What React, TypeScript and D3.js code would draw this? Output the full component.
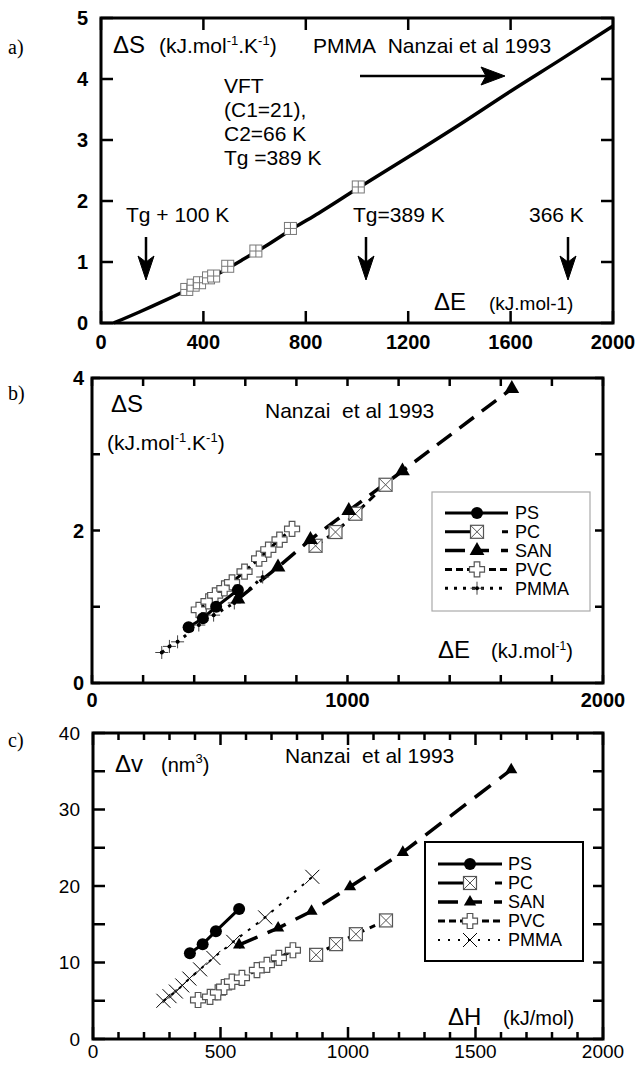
import React from "react";
import * as d3 from "d3";

// ---- panel a : PMMA, VFT curve (Nanzai 1993)
const vftE = [50, 150, 250, 350, 450, 550, 650, 750, 850, 1000, 1200, 1400, 1600, 1800, 2000];
const vftS = [0, 0.18, 0.37, 0.57, 0.79, 1.03, 1.28, 1.55, 1.8, 2.2, 2.72, 3.25, 3.8, 4.33, 4.87];
const pmmaE_a = [335, 360, 385, 420, 440, 495, 605, 740, 1005];
const pmmaS_a = [0.55, 0.62, 0.66, 0.74, 0.77, 0.93, 1.18, 1.55, 2.23];

// ---- panel b : dS vs dE
const psE_b = [378, 434, 486, 571];
const psS_b = [0.73, 0.85, 1.0, 1.22];
const pcE_b = [875, 953, 1031, 1149];
const pcS_b = [1.8, 1.98, 2.22, 2.6];
const sanE_b = [571, 728, 855, 1005, 1215, 1643];
const sanS_b = [1.1, 1.52, 1.88, 2.26, 2.78, 3.86];
const pvcE_b = [418, 456, 482, 518, 548, 597, 654, 690, 734, 783];
const pvcS_b = [0.96, 1.07, 1.15, 1.24, 1.32, 1.46, 1.63, 1.75, 1.88, 2.02];
const pmmaE_b = [273, 303, 335, 418, 476, 557, 668];
const pmmaS_b = [0.4, 0.48, 0.54, 0.76, 0.89, 1.05, 1.39];

// ---- panel c : dv vs dH
const psH_c = [380, 430, 482, 573];
const psV_c = [11.2, 12.4, 14.1, 17.0];
const pcH_c = [875, 953, 1031, 1149];
const pcV_c = [11.0, 12.4, 13.7, 15.5];
const sanH_c = [573, 726, 857, 1008, 1215, 1640];
const sanV_c = [12.3, 14.5, 16.7, 19.9, 24.4, 35.2];
const pvcH_c = [412, 459, 490, 514, 545, 584, 643, 682, 729, 784];
const pvcV_c = [5.1, 5.5, 6.1, 6.8, 7.5, 8.0, 9.0, 9.7, 10.6, 11.6];
const pmmaH_c = [276, 300, 325, 350, 378, 420, 472, 550, 675, 860];
const pmmaV_c = [5.0, 5.6, 6.2, 7.0, 7.9, 9.1, 10.6, 12.7, 15.9, 21.2];

const legendNames = ["PS", "PC", "SAN", "PVC", "PMMA"];

// ticks
const xTicksA = [0, 400, 800, 1200, 1600, 2000];
const yTicksA = [0, 1, 2, 3, 4, 5];
const xTicksB = d3.range(0, 2001, 200);
const xLabelsB = [0, 1000, 2000];
const yTicksB = [0, 1, 2, 3, 4];
const yLabelsB = [0, 2, 4];
const xTicksC = d3.range(0, 2001, 100);
const xLabelsC = [0, 500, 1000, 1500, 2000];
const yTicksC = d3.range(0, 41, 5);
const yLabelsC = [0, 10, 20, 30, 40];

const SANS = "'Liberation Sans', Arial, Helvetica, sans-serif";
const SERIF = "'Liberation Serif', 'Times New Roman', serif";

const zip = (xs: number[], ys: number[]) => xs.map((x, i) => [x, ys[i]] as [number, number]);

const GridSquare = ({ x, y }: { x: number; y: number }) => (
  <g transform={`translate(${x},${y})`}>
    <rect x={-6} y={-6} width={12} height={12} fill="white" stroke="#777" strokeWidth={1} />
    <line x1={-6} x2={6} y1={0} y2={0} stroke="#777" strokeWidth={1} />
    <line x1={0} x2={0} y1={-6} y2={6} stroke="#777" strokeWidth={1} />
  </g>
);

const XSquare = ({ x, y }: { x: number; y: number }) => (
  <g transform={`translate(${x},${y})`}>
    <rect x={-6.5} y={-6.5} width={13} height={13} fill="white" stroke="#555" strokeWidth={1.2} />
    <line x1={-6.5} x2={6.5} y1={-6.5} y2={6.5} stroke="#555" strokeWidth={1} />
    <line x1={-6.5} x2={6.5} y1={6.5} y2={-6.5} stroke="#555" strokeWidth={1} />
  </g>
);

const plusPath = (a: number, L: number) =>
  `M${-a},${-L}H${a}V${-a}H${L}V${a}H${a}V${L}H${-a}V${a}H${-L}V${-a}H${-a}Z`;

const OpenPlus = ({ x, y }: { x: number; y: number }) => (
  <path transform={`translate(${x},${y})`} d={plusPath(2.8, 7.5)} fill="white" stroke="#555" strokeWidth={1.2} />
);

const ThinPlus = ({ x, y }: { x: number; y: number }) => (
  <g transform={`translate(${x},${y})`}>
    <line x1={-6.5} x2={6.5} y1={0} y2={0} stroke="#444" strokeWidth={1} />
    <line x1={0} x2={0} y1={-6.5} y2={6.5} stroke="#444" strokeWidth={1} />
    <circle r={2} fill="black" />
  </g>
);

const ThinX = ({ x, y }: { x: number; y: number }) => (
  <g transform={`translate(${x},${y})`}>
    <line x1={-7} x2={7} y1={-7} y2={7} stroke="black" strokeWidth={1} />
    <line x1={-7} x2={7} y1={7} y2={-7} stroke="black" strokeWidth={1} />
  </g>
);

const triBig = d3.symbol().type(d3.symbolTriangle).size(95)() as string;
const triSmall = d3.symbol().type(d3.symbolTriangle).size(65)() as string;

const Tri = ({ x, y, big }: { x: number; y: number; big?: boolean }) => (
  <path transform={`translate(${x},${y})`} d={big ? triBig : triSmall} fill="black" />
);

const Dot = ({ x, y }: { x: number; y: number }) => <circle cx={x} cy={y} r={6} fill="black" />;

type Sc = d3.ScaleLinear<number, number>;

function Frame({ x, y, sw }: { x: Sc; y: Sc; sw: number }) {
  const [x0, x1] = x.range();
  const [y0, y1] = y.range();
  return (
    <rect x={x0} y={y1} width={x1 - x0} height={y0 - y1} fill="none" stroke="black" strokeWidth={sw} />
  );
}

export default function App() {
  const xa = d3.scaleLinear().domain([0, 2000]).range([101, 613]);
  const ya = d3.scaleLinear().domain([0, 5]).range([323, 18]);
  const xb = d3.scaleLinear().domain([0, 2000]).range([92, 603]);
  const yb = d3.scaleLinear().domain([0, 4]).range([683, 378]);
  const xc = d3.scaleLinear().domain([0, 2000]).range([93, 603]);
  const yc = d3.scaleLinear().domain([0, 40]).range([1039, 733]);

  const lineA = d3.line<[number, number]>().x((d) => xa(d[0])).y((d) => ya(d[1])).curve(d3.curveMonotoneX);
  const lineB = d3.line<[number, number]>().x((d) => xb(d[0])).y((d) => yb(d[1]));
  const lineC = d3.line<[number, number]>().x((d) => xc(d[0])).y((d) => yc(d[1]));

  const tickLabel = { fontFamily: SANS, fontWeight: 700, fontSize: 20 } as const;
  const tickLabelC = { fontFamily: SANS, fontWeight: 400, fontSize: 19 } as const;

  // legend line styles [dasharray, width]
  const bStyles: [string, number][] = [
    ["none", 3],
    ["25,32,8", 3],
    ["20,12,12,12,8", 3.5],
    ["7,4", 3],
    ["3,6", 3],
  ];
  const cStyles: [string, number][] = [
    ["none", 3],
    ["25,32,8", 3],
    ["20,12,12,12,8", 3.5],
    ["7,4", 3],
    ["2,8", 2],
  ];

  const legendMarker = (i: number, x: number, y: number, panel: string) => {
    if (i === 0) return <Dot x={x} y={y} />;
    if (i === 1) return <XSquare x={x} y={y} />;
    if (i === 2) return <Tri x={x} y={y} big={panel === "b"} />;
    if (i === 3) return <OpenPlus x={x} y={y} />;
    return panel === "b" ? <ThinPlus x={x} y={y} /> : <ThinX x={x} y={y} />;
  };

  return (
    <svg width={635} height={1068} style={{ position: "absolute", left: 0, top: 0, background: "white" }}>
      <rect width={635} height={1068} fill="white" />

      {/* ================= panel a ================= */}
      <text x={8} y={54} fontFamily={SERIF} fontSize={20}>a)</text>
      {yTicksA.map((t) => (
        <g key={"ya" + t}>
          <line x1={xa(0)} x2={xa(0) + 12} y1={ya(t)} y2={ya(t)} stroke="black" strokeWidth={2.5} />
          <line x1={xa(2000)} x2={xa(2000) - 12} y1={ya(t)} y2={ya(t)} stroke="black" strokeWidth={2.5} />
          <text x={88} y={ya(t)} dy="0.36em" textAnchor="end" {...tickLabel}>{t}</text>
        </g>
      ))}
      {xTicksA.map((t) => (
        <g key={"xa" + t}>
          <line x1={xa(t)} x2={xa(t)} y1={ya(0)} y2={ya(0) - 12} stroke="black" strokeWidth={2.5} />
          <line x1={xa(t)} x2={xa(t)} y1={ya(5)} y2={ya(5) + 12} stroke="black" strokeWidth={2.5} />
          <text x={xa(t)} y={349} textAnchor="middle" {...tickLabel}>{t}</text>
        </g>
      ))}
      <Frame x={xa} y={ya} sw={3} />
      <path d={lineA(zip(vftE, vftS)) || ""} fill="none" stroke="black" strokeWidth={3.5} />
      {zip(pmmaE_a, pmmaS_a).map((d, i) => (
        <GridSquare key={"sqa" + i} x={xa(d[0])} y={ya(d[1])} />
      ))}

      <g fontFamily={SANS} fill="black">
        <text x={113} y={53} fontSize={24}>ΔS</text>
        <text x={159} y={53} fontSize={21}>
          (kJ.mol<tspan dy={-8} fontSize={13}>-1</tspan>
          <tspan dy={8}>.K</tspan>
          <tspan dy={-8} fontSize={13}>-1</tspan>
          <tspan dy={8}>)</tspan>
        </text>
        <text x={313} y={53} fontSize={21}>PMMA{"\u00a0 "}Nanzai et al 1993</text>
        <text x={224} y={93} fontSize={21}>VFT</text>
        <text x={224} y={117} fontSize={21}>(C1=21),</text>
        <text x={224} y={141} fontSize={21}>C2=66 K</text>
        <text x={224} y={165} fontSize={21}>Tg =389 K</text>
        <text x={126} y={222} fontSize={21}>Tg + 100 K</text>
        <text x={353} y={222} fontSize={21}>Tg=389 K</text>
        <text x={529} y={222} fontSize={21}>366 K</text>
        <text x={434} y={310} fontSize={24}>ΔE</text>
        <text x={489} y={310} fontSize={19}>(kJ.mol-1)</text>
      </g>
      {/* arrows */}
      <line x1={360} x2={490} y1={76} y2={76} stroke="black" strokeWidth={2.5} />
      <path d="M505,76 L481,67 L486,76 L481,85 Z" fill="black" stroke="black" strokeWidth={1} />
      {[146, 366, 568].map((ax) => (
        <g key={"arr" + ax}>
          <line x1={ax} x2={ax} y1={237} y2={268} stroke="black" strokeWidth={2.5} />
          <path d={`M${ax},280 L${ax - 8},256 L${ax},262 L${ax + 8},256 Z`} fill="black" stroke="black" strokeWidth={1} />
        </g>
      ))}

      {/* ================= panel b ================= */}
      <text x={8} y={400} fontFamily={SERIF} fontSize={20}>b)</text>
      {yTicksB.map((t) => (
        <g key={"yb" + t}>
          <line x1={xb(0)} x2={xb(0) + 8} y1={yb(t)} y2={yb(t)} stroke="black" strokeWidth={2.5} />
          <line x1={xb(2000)} x2={xb(2000) - 8} y1={yb(t)} y2={yb(t)} stroke="black" strokeWidth={2.5} />
        </g>
      ))}
      {yLabelsB.map((t) => (
        <text key={"ybl" + t} x={84} y={yb(t)} dy="0.36em" textAnchor="end" {...tickLabel}>{t}</text>
      ))}
      {xTicksB.map((t) => (
        <g key={"xb" + t}>
          <line x1={xb(t)} x2={xb(t)} y1={yb(0)} y2={yb(0) - 8} stroke="black" strokeWidth={2.5} />
          <line x1={xb(t)} x2={xb(t)} y1={yb(4)} y2={yb(4) + 8} stroke="black" strokeWidth={2.5} />
        </g>
      ))}
      {xLabelsB.map((t) => (
        <text key={"xbl" + t} x={xb(t)} y={707} textAnchor="middle" {...tickLabel}>{t}</text>
      ))}
      <Frame x={xb} y={yb} sw={3} />

      <path d={lineB(zip(pmmaE_b, pmmaS_b)) || ""} fill="none" stroke="black" strokeWidth={3} strokeDasharray="3,6" />
      <path d={lineB(zip(pvcE_b, pvcS_b)) || ""} fill="none" stroke="black" strokeWidth={3} strokeDasharray="7,5" />
      <path d={lineB(zip(sanE_b, sanS_b)) || ""} fill="none" stroke="black" strokeWidth={3.5} strokeDasharray="18,10" />
      <path d={lineB(zip(pcE_b, pcS_b)) || ""} fill="none" stroke="black" strokeWidth={3} strokeDasharray="8,6" />
      <path d={lineB(zip(psE_b, psS_b)) || ""} fill="none" stroke="black" strokeWidth={3} />

      {zip(pmmaE_b, pmmaS_b).map((d, i) => <ThinPlus key={"pmb" + i} x={xb(d[0])} y={yb(d[1])} />)}
      {zip(pvcE_b, pvcS_b).map((d, i) => <OpenPlus key={"pvb" + i} x={xb(d[0])} y={yb(d[1])} />)}
      {zip(pcE_b, pcS_b).map((d, i) => <XSquare key={"pcb" + i} x={xb(d[0])} y={yb(d[1])} />)}
      {zip(sanE_b, sanS_b).map((d, i) => <Tri key={"sab" + i} x={xb(d[0])} y={yb(d[1])} big />)}
      {zip(psE_b, psS_b).map((d, i) => <Dot key={"psb" + i} x={xb(d[0])} y={yb(d[1])} />)}

      <g fontFamily={SANS} fill="black">
        <text x={111} y={412} fontSize={24}>ΔS</text>
        <text x={107} y={450} fontSize={21}>
          (kJ.mol<tspan dy={-8} fontSize={13}>-1</tspan>
          <tspan dy={8}>.K</tspan>
          <tspan dy={-8} fontSize={13}>-1</tspan>
          <tspan dy={8}>)</tspan>
        </text>
        <text x={265} y={418} fontSize={21}>Nanzai{"\u00a0 "}et al 1993</text>
        <text x={438} y={658} fontSize={24}>ΔE</text>
        <text x={491} y={658} fontSize={20}>
          (kJ.mol<tspan dy={-8} fontSize={12}>-1</tspan>
          <tspan dy={8}>)</tspan>
        </text>
      </g>

      {/* legend b */}
      <rect x={432} y={492} width={158} height={119} fill="white" stroke="#aaa" strokeWidth={1.2} />
      {legendNames.map((n, i) => {
        const ly = 513 + i * 18.8;
        return (
          <g key={"lgb" + n}>
            <line x1={445} x2={508} y1={ly} y2={ly} stroke="black" strokeWidth={bStyles[i][1]}
              strokeDasharray={bStyles[i][0]} />
            {legendMarker(i, 477, ly, "b")}
            <text x={515} y={ly} dy="0.36em" fontFamily={SANS} fontSize={18}>{n}</text>
          </g>
        );
      })}

      {/* ================= panel c ================= */}
      <text x={8} y={747} fontFamily={SERIF} fontSize={20}>c)</text>
      {yTicksC.map((t) => (
        <g key={"yc" + t}>
          <line x1={xc(0)} x2={xc(0) + 12} y1={yc(t)} y2={yc(t)} stroke="black" strokeWidth={2.5} />
          <line x1={xc(2000)} x2={xc(2000) - 10} y1={yc(t)} y2={yc(t)} stroke="black" strokeWidth={2.5} />
        </g>
      ))}
      {yLabelsC.map((t) => (
        <text key={"ycl" + t} x={80} y={yc(t)} dy="0.36em" textAnchor="end" {...tickLabelC}>{t}</text>
      ))}
      {xTicksC.map((t) => {
        const len = t % 500 === 0 ? 12 : 7;
        return (
          <g key={"xc" + t}>
            <line x1={xc(t)} x2={xc(t)} y1={yc(0)} y2={yc(0) - len} stroke="black" strokeWidth={2.5} />
            <line x1={xc(t)} x2={xc(t)} y1={yc(40)} y2={yc(40) + len} stroke="black" strokeWidth={2.5} />
          </g>
        );
      })}
      {xLabelsC.map((t) => (
        <text key={"xcl" + t} x={xc(t)} y={1058} textAnchor="middle" {...tickLabelC}>{t}</text>
      ))}
      <Frame x={xc} y={yc} sw={3} />

      <path d={lineC(zip(pmmaH_c, pmmaV_c)) || ""} fill="none" stroke="black" strokeWidth={2} strokeDasharray="3,7" />
      <path d={lineC(zip(pvcH_c, pvcV_c)) || ""} fill="none" stroke="black" strokeWidth={3} strokeDasharray="7,5" />
      <path d={lineC(zip(sanH_c, sanV_c)) || ""} fill="none" stroke="black" strokeWidth={3.5} strokeDasharray="20,11" />
      <path d={lineC(zip(pcH_c, pcV_c)) || ""} fill="none" stroke="black" strokeWidth={3} strokeDasharray="6,6" />
      <path d={lineC(zip(psH_c, psV_c)) || ""} fill="none" stroke="black" strokeWidth={3} />

      {zip(pmmaH_c, pmmaV_c).map((d, i) => <ThinX key={"pmc" + i} x={xc(d[0])} y={yc(d[1])} />)}
      {zip(pvcH_c, pvcV_c).map((d, i) => <OpenPlus key={"pvc" + i} x={xc(d[0])} y={yc(d[1])} />)}
      {zip(pcH_c, pcV_c).map((d, i) => <XSquare key={"pcc" + i} x={xc(d[0])} y={yc(d[1])} />)}
      {zip(sanH_c, sanV_c).map((d, i) => <Tri key={"sac" + i} x={xc(d[0])} y={yc(d[1])} />)}
      {zip(psH_c, psV_c).map((d, i) => <Dot key={"psc" + i} x={xc(d[0])} y={yc(d[1])} />)}

      <g fontFamily={SANS} fill="black">
        <text x={115} y={772} fontSize={24}>Δv</text>
        <text x={161} y={772} fontSize={20}>
          (nm<tspan dy={-9} fontSize={13}>3</tspan>
          <tspan dy={9}>)</tspan>
        </text>
        <text x={285} y={763} fontSize={21}>Nanzai{"\u00a0 "}et al 1993</text>
        <text x={448} y={1025} fontSize={24}>ΔH</text>
        <text x={503} y={1025} fontSize={20}>(kJ/mol)</text>
      </g>

      {/* legend c */}
      <rect x={425} y={842} width={158} height={119} fill="white" stroke="black" strokeWidth={2} />
      {legendNames.map((n, i) => {
        const ly = 864 + i * 19;
        return (
          <g key={"lgc" + n}>
            <line x1={438} x2={502} y1={ly} y2={ly} stroke="black" strokeWidth={cStyles[i][1]}
              strokeDasharray={cStyles[i][0]} />
            {legendMarker(i, 470, ly, "c")}
            <text x={508} y={ly} dy="0.36em" fontFamily={SANS} fontSize={18}>{n}</text>
          </g>
        );
      })}
    </svg>
  );
}
